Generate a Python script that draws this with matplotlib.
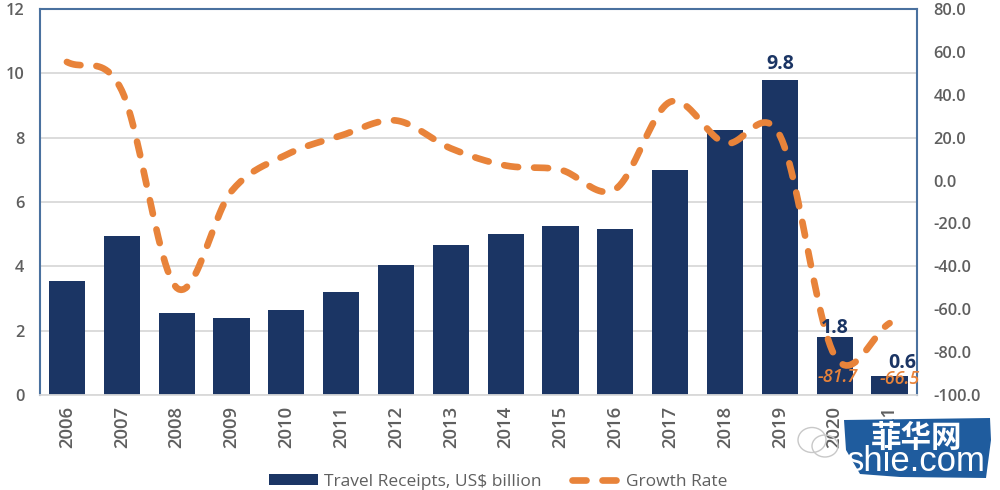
import numpy as np
import matplotlib
matplotlib.use("Agg")
import matplotlib.pyplot as plt
from matplotlib.patches import Polygon, Ellipse

years = [str(y) for y in range(2006, 2022)]
receipts = [3.55, 4.95, 2.55, 2.4, 2.65, 3.2, 4.05, 4.65, 5.0, 5.25, 5.15, 7.0, 8.25, 9.8, 1.8, 0.6]
growth = [55.3, 42.0, -50.0, -5.0, 12.0, 21.0, 28.0, 15.0, 7.0, 5.0, -4.0, 36.7, 17.5, 21.0, -81.7, -66.5]
bar_labels = {13: "9.8", 14: "1.8", 15: "0.6"}
growth_labels = {14: "-81.7", 15: "-66.5"}
left_ticks = [0, 2, 4, 6, 8, 10, 12]
right_ticks = list(range(-100, 81, 20))

NAVY = "#1b3564"
ORANGE = "#e8833a"
GRAY = "#5f5f5f"
EDGE = "#4a719f"
plt.rcParams['font.family'] = ['Open Sans', 'DejaVu Sans']

def smooth(x, y, n=24):
    """Catmull-Rom rendering of the line through the data points."""
    x = np.asarray(x, float); y = np.asarray(y, float)
    px = np.r_[2*x[0]-x[1], x, 2*x[-1]-x[-2]]; py = np.r_[2*y[0]-y[1], y, 2*y[-1]-y[-2]]
    xs, ys = [], []
    for i in range(1, len(px) - 2):
        t = np.linspace(0, 1, n, endpoint=False)
        f = lambda p: 0.5 * (2*p[i] + (p[i+1]-p[i-1])*t + (2*p[i-1]-5*p[i]+4*p[i+1]-p[i+2])*t**2
                             + (3*p[i]-p[i-1]-3*p[i+1]+p[i+2])*t**3)
        xs.append(f(px)); ys.append(f(py))
    return np.r_[np.concatenate(xs), x[-1]], np.r_[np.concatenate(ys), y[-1]]

W, H = 1000, 490
fig = plt.figure(figsize=(10, 4.9), dpi=100)
ax = fig.add_axes([39.5/W, 1-395/H, (917-39.5)/W, (395-9)/H])
pos = np.arange(len(years))
bars = ax.bar(pos, receipts, width=0.66, color=NAVY, zorder=2, label="Travel Receipts, US$ billion")
ax.set_xlim(-0.5, 15.5)
ax.set_ylim(0, 12)
ax.set_yticks(left_ticks)
ax.set_xticks(pos, years, rotation=90)
ax.tick_params(axis='x', length=0, pad=8, labelsize=13.3, labelcolor=GRAY)
ax.tick_params(axis='y', length=0, pad=11, labelsize=11.8, labelcolor=GRAY)
for lab in ax.get_xticklabels() + ax.get_yticklabels():
    lab.set_fontweight('semibold')
ax.grid(axis='y', color='#d9d9d9', lw=1.3, zorder=1)
ax.set_axisbelow(True)
for s in ['left', 'top', 'right']:
    ax.spines[s].set_color(EDGE); ax.spines[s].set_linewidth(1.5)
ax.spines['bottom'].set_color('#d9d9d9'); ax.spines['bottom'].set_linewidth(1.3)

ax2 = ax.twinx()
ax2.set_ylim(-100, 80)
ax2.set_yticks(right_ticks, [f"{v:.1f}" for v in right_ticks])
ax2.tick_params(axis='y', length=0, pad=12, labelsize=11.8, labelcolor=GRAY)
for lab in ax2.get_yticklabels():
    lab.set_fontweight('semibold')
for s in ax2.spines.values():
    s.set_visible(False)
sx, sy = smooth(pos, growth)
line, = ax2.plot(sx, sy, color=ORANGE, lw=4.8, zorder=3, label="Growth Rate",
                 dashes=(2.1, 2.4), dash_capstyle='round')

label_offsets = {13: (0, 4.5), 14: (0, -1), 15: (9, 2)}
for i, t in bar_labels.items():
    ax2.annotate(t, (pos[i], receipts[i]/12), xycoords=('data', 'axes fraction'),
                 xytext=label_offsets[i], textcoords='offset points',
                 ha='center', va='bottom', color=NAVY, fontsize=14, fontweight='bold', zorder=5,
                 annotation_clip=False)
growth_offsets = {14: (2, 13), 15: (7, 11.5)}
for i, t in growth_labels.items():
    ax2.annotate(t, (pos[i], 0), xycoords=('data', 'axes fraction'), xytext=growth_offsets[i],
                 textcoords='offset points', ha='center', va='center', color=ORANGE, fontsize=13,
                 fontstyle='italic', fontweight='semibold', zorder=6, annotation_clip=False)

fig.legend(handles=[bars, line], ncol=2, loc='lower left', bbox_to_anchor=(257/W, -12/H),
           frameon=False, fontsize=12.5, labelcolor=GRAY, handlelength=2.8, handleheight=0.55,
           columnspacing=1.75, handletextpad=0.35, borderpad=0.2)

# watermark, in picture pixels
to_fig = fig.transFigure
def px(x, y):
    return (x/W, 1-y/H)
blob = Polygon([px(*p) for p in [(844, 420), (990, 418), (991, 440), (986, 478), (900, 477), (860, 474), (846, 450)]],
               closed=True, transform=to_fig, facecolor='#1f5c9e', edgecolor='none', zorder=10)
fig.add_artist(blob)
for cx, cy, w, h in [(812, 440, 28, 25), (825, 446, 26, 22)]:
    fig.add_artist(Ellipse(px(cx, cy), w/W, h/H, transform=to_fig, facecolor='none',
                           edgecolor='#c8c8c8', lw=1, zorder=9))
fig.text(*px(917, 438), "菲华网", family=['Noto Sans CJK SC', 'DejaVu Sans'], color='white', fontsize=22,
         fontweight='bold', ha='center', va='center', zorder=11)
fig.text(*px(916, 461), "shie.com", family=['Liberation Sans'], color='white', fontsize=25,
         ha='center', va='center', zorder=11)
fig.savefig("out.png", dpi=100)
